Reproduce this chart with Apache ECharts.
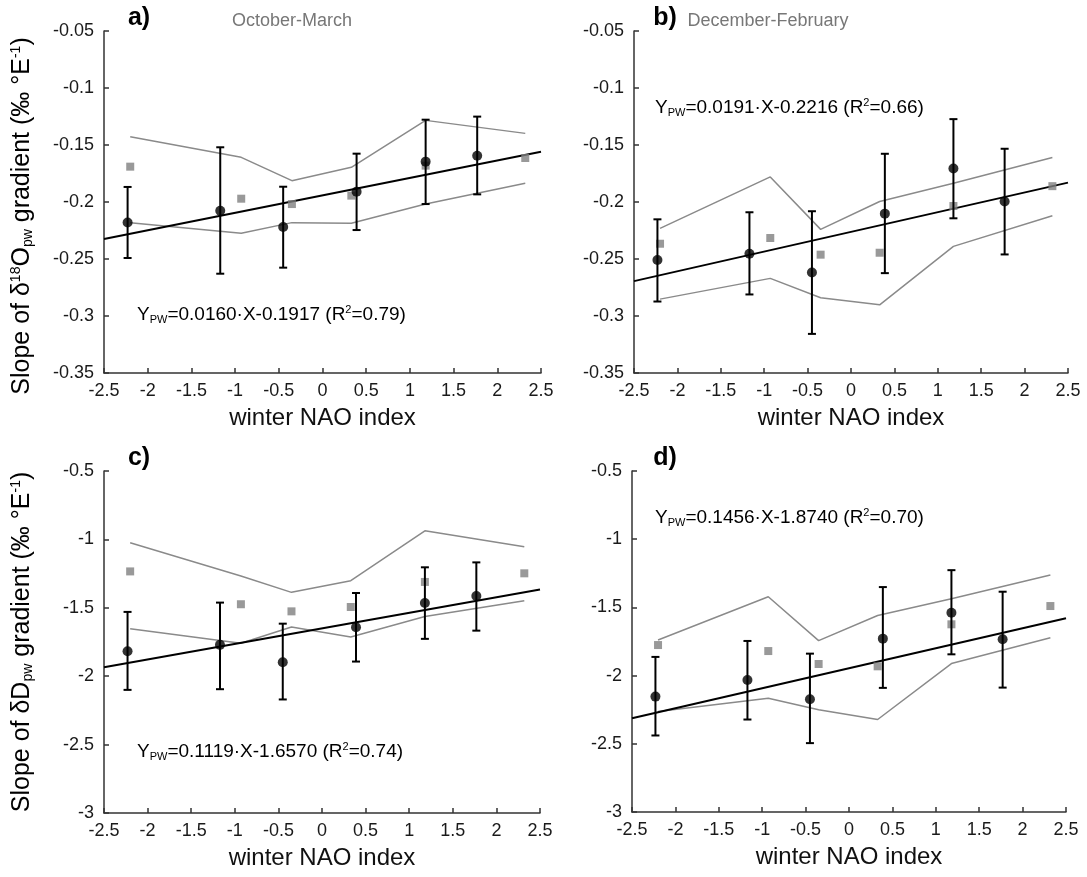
<!DOCTYPE html>
<html>
<head>
<meta charset="utf-8">
<script src="https://cdn.jsdelivr.net/npm/echarts@6/dist/echarts.min.js"></script>
<style>
  html, body { margin: 0; padding: 0; background: #fff; }
  #chart { width: 1087px; height: 877px; }
</style>
</head>
<body>
<div id="chart"></div>
<script>
// x positions (winter NAO index)
const xCircle = [-2.23, -1.17, -0.45, 0.39, 1.18, 1.77];
const xSquare = [-2.2, -0.93, -0.35, 0.33, 1.18, 2.32];
const fitX = [-2.5, 2.5];

// a) October-March, d18O
const aMean = [-0.218, -0.2076, -0.2219, -0.1909, -0.1646, -0.1594];
const aLow = [-0.2491, -0.2629, -0.2576, -0.2246, -0.2018, -0.1933];
const aHigh = [-0.1868, -0.152, -0.1866, -0.1576, -0.1278, -0.1251];
const aSquare = [-0.169, -0.1971, -0.2018, -0.1944, -0.1681, -0.1614];
const aUpper = [-0.1427, -0.1608, -0.1813, -0.1696, -0.1284, -0.1398];
const aLower = [-0.2181, -0.2275, -0.2181, -0.2187, -0.2018, -0.1836];
const aFit = [-0.2325, -0.156];

// b) December-February, d18O
const bMean = [-0.2509, -0.2454, -0.2618, -0.2102, -0.1706, -0.1996];
const bLow = [-0.2873, -0.2811, -0.3157, -0.2624, -0.2143, -0.246];
const bHigh = [-0.2152, -0.209, -0.2081, -0.1577, -0.1273, -0.1533];
const bSquare = [-0.2366, -0.2316, -0.2462, -0.2445, -0.2035, -0.1861];
const bUpper = [-0.2231, -0.178, -0.224, -0.1996, -0.1835, -0.161];
const bLower = [-0.2852, -0.267, -0.284, -0.2902, -0.2389, -0.212];
const bFit = [-0.2694, -0.183];

// c) October-March, dD
const cMean = [-1.8175, -1.771, -1.898, -1.642, -1.465, -1.414];
const cLow = [-2.1, -2.095, -2.17, -1.893, -1.727, -1.667];
const cHigh = [-1.53, -1.462, -1.616, -1.392, -1.204, -1.168];
const cSquare = [-1.234, -1.474, -1.526, -1.494, -1.311, -1.248];
const cUpper = [-1.024, -1.268, -1.387, -1.302, -0.937, -1.054];
const cLower = [-1.654, -1.759, -1.64, -1.713, -1.564, -1.448];
const cFit = [-1.934, -1.366];

// d) December-February, dD
const dMean = [-2.154, -2.032, -2.173, -1.729, -1.539, -1.734];
const dLow = [-2.439, -2.322, -2.495, -2.09, -1.844, -2.088];
const dHigh = [-1.863, -1.746, -1.839, -1.351, -1.227, -1.385];
const dSquare = [-1.776, -1.82, -1.915, -1.932, -1.624, -1.49];
const dUpper = [-1.739, -1.422, -1.744, -1.559, -1.437, -1.263];
const dLower = [-2.263, -2.166, -2.251, -2.322, -1.912, -1.722];
const dFit = [-2.312, -1.58];

const FONT = '"Liberation Sans", Arial, sans-serif';
const zip = (xs, ys) => xs.map((x, i) => [x, ys[i]]);

const grids = [
    { left: 104, top: 31, width: 437, height: 342 },
    { left: 634, top: 31, width: 434, height: 342 },
    { left: 104, top: 471, width: 436, height: 342 },
    { left: 632, top: 471, width: 434, height: 341 }
];

function xAxisFor(i) {
    return {
        type: 'value', gridIndex: i, min: -2.5, max: 2.5, interval: 0.5,
        name: 'winter NAO index', nameLocation: 'middle', nameGap: 33,
        nameTextStyle: { fontSize: 24, fontFamily: FONT, color: '#111' },
        axisLine: { onZero: false, lineStyle: { color: '#333', width: 1.5 } },
        axisTick: { inside: true, length: 5, lineStyle: { color: '#333', width: 1.5 } },
        axisLabel: { fontSize: 18, fontFamily: FONT, color: '#1a1a1a', margin: 9 },
        splitLine: { show: false }
    };
}

function yAxisFor(i, min, max, step) {
    return {
        type: 'value', gridIndex: i, min: min, max: max, interval: step,
        axisLine: { show: true, onZero: false, lineStyle: { color: '#333', width: 1.5 } },
        axisTick: { show: true, inside: true, length: 5, lineStyle: { color: '#333', width: 1.5 } },
        axisLabel: { fontSize: 18, fontFamily: FONT, color: '#1a1a1a', margin: 10 },
        splitLine: { show: false }
    };
}

function errorBarItem(params, api) {
    const x = api.value(0);
    const lo = api.coord([x, api.value(1)]);
    const hi = api.coord([x, api.value(2)]);
    const cap = 4;
    const style = { stroke: '#000', lineWidth: 2 };
    return {
        type: 'group',
        children: [
            { type: 'line', shape: { x1: lo[0], y1: lo[1], x2: hi[0], y2: hi[1] }, style: style },
            { type: 'line', shape: { x1: lo[0] - cap, y1: lo[1], x2: lo[0] + cap, y2: lo[1] }, style: style },
            { type: 'line', shape: { x1: hi[0] - cap, y1: hi[1], x2: hi[0] + cap, y2: hi[1] }, style: style }
        ]
    };
}

function panelSeries(i, mean, low, high, square, upper, lower, fit) {
    const ax = { xAxisIndex: i, yAxisIndex: i };
    return [
        Object.assign({ type: 'line', data: zip(xSquare, upper), symbol: 'none', lineStyle: { color: '#8a8a8a', width: 1.5 }, z: 1, silent: true }, ax),
        Object.assign({ type: 'line', data: zip(xSquare, lower), symbol: 'none', lineStyle: { color: '#8a8a8a', width: 1.5 }, z: 1, silent: true }, ax),
        Object.assign({ type: 'line', data: zip(fitX, fit), symbol: 'none', lineStyle: { color: '#000', width: 2 }, z: 2, silent: true }, ax),
        Object.assign({ type: 'scatter', data: zip(xSquare, square), symbol: 'rect', symbolSize: 8, itemStyle: { color: '#7f7f7f' }, z: 3 }, ax),
        Object.assign({
            type: 'custom', renderItem: errorBarItem,
            data: xCircle.map((x, k) => [x, low[k], high[k]]),
            encode: { x: 0, y: [1, 2] }, z: 4
        }, ax),
        Object.assign({ type: 'scatter', data: zip(xCircle, mean), symbol: 'circle', symbolSize: 10, itemStyle: { color: '#000' }, z: 5 }, ax)
    ];
}

const eqRich = {
    t: { fontSize: 19, fontFamily: FONT, color: '#111' },
    sub: { fontSize: 11, fontFamily: FONT, color: '#111', verticalAlign: 'bottom', padding: [10, 0, 0, 0] },
    sup: { fontSize: 11, fontFamily: FONT, color: '#111', verticalAlign: 'top', padding: [0, 0, 8, 0] }
};

const labelRich = {
    t: { fontSize: 25, fontFamily: FONT, color: '#111' },
    sub: { fontSize: 14, fontFamily: FONT, color: '#111', verticalAlign: 'bottom', padding: [12, 0, 0, 0] },
    sup: { fontSize: 14, fontFamily: FONT, color: '#111', verticalAlign: 'top', padding: [0, 0, 10, 0] }
};

function equation(x, y, slope, icpt, r2) {
    return {
        type: 'text', x: x, y: y,
        style: {
            text: '{t|Y}{sub|PW}{t|=' + slope + '·X-' + icpt + ' (R}{sup|2}{t|=' + r2 + ')}',
            rich: eqRich, textVerticalAlign: 'middle', verticalAlign: 'middle'
        }
    };
}

function yLabel(x, y, text) {
    return {
        type: 'text', x: x, y: y, rotation: Math.PI / 2,
        style: {
            text: text, rich: labelRich,
            textAlign: 'center', align: 'center', textVerticalAlign: 'middle', verticalAlign: 'middle'
        }
    };
}

function textEl(x, y, text, size, color, weight) {
    return {
        type: 'text', x: x, y: y,
        style: {
            text: text, fontSize: size, fontFamily: FONT, fill: color, fontWeight: weight || 'normal',
            textAlign: 'center', align: 'center', textVerticalAlign: 'middle', verticalAlign: 'middle'
        }
    };
}

const chart = echarts.init(document.getElementById('chart'));
const option = {
    backgroundColor: '#fff',
    animation: false,
    grid: grids.map(g => Object.assign({ containLabel: false, outerBoundsMode: 'none' }, g)),
    xAxis: [xAxisFor(0), xAxisFor(1), xAxisFor(2), xAxisFor(3)],
    yAxis: [
        yAxisFor(0, -0.35, -0.05, 0.05),
        yAxisFor(1, -0.35, -0.05, 0.05),
        yAxisFor(2, -3, -0.5, 0.5),
        yAxisFor(3, -3, -0.5, 0.5)
    ],
    series: [].concat(
        panelSeries(0, aMean, aLow, aHigh, aSquare, aUpper, aLower, aFit),
        panelSeries(1, bMean, bLow, bHigh, bSquare, bUpper, bLower, bFit),
        panelSeries(2, cMean, cLow, cHigh, cSquare, cUpper, cLower, cFit),
        panelSeries(3, dMean, dLow, dHigh, dSquare, dUpper, dLower, dFit)
    ),
    graphic: [
        yLabel(22, 216, '{t|Slope of δ}{sup|18}{t|O}{sub|pw}{t| gradient (‰ °E}{sup|-1}{t|)}'),
        yLabel(22, 642, '{t|Slope of δD}{sub|pw}{t| gradient (‰ °E}{sup|-1}{t|)}'),
        textEl(139, 18, 'a)', 25, '#000', 'bold'),
        textEl(665, 18, 'b)', 25, '#000', 'bold'),
        textEl(139, 458, 'c)', 25, '#000', 'bold'),
        textEl(665, 458, 'd)', 25, '#000', 'bold'),
        textEl(292, 21, 'October-March', 18, '#777'),
        textEl(768, 21, 'December-February', 18, '#777'),
        equation(137, 315, '0.0160', '0.1917', '0.79'),
        equation(655, 108, '0.0191', '0.2216', '0.66'),
        equation(137, 752, '0.1119', '1.6570', '0.74'),
        equation(655, 518, '0.1456', '1.8740', '0.70')
    ]
};
chart.setOption(option);
</script>
</body>
</html>
